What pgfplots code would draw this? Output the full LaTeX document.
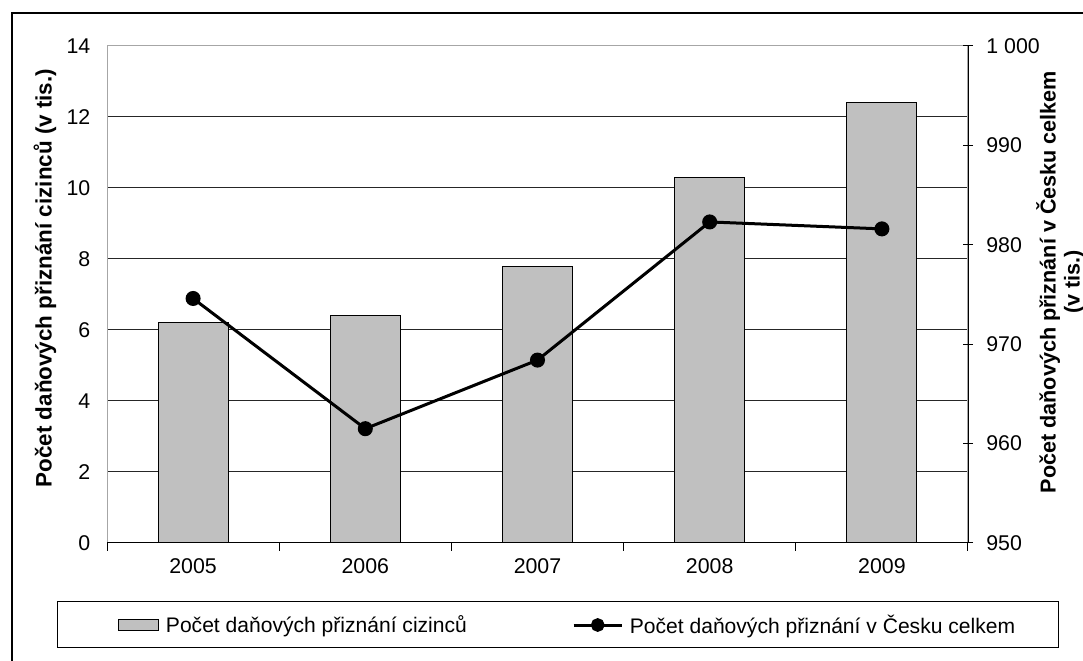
\documentclass[border=0pt]{standalone}
\usepackage{fontspec}
\setmainfont{Liberation Sans}
\setsansfont{Liberation Sans}
\usepackage{pgfplots}
\pgfplotsset{compat=1.18}
\definecolor{barg}{RGB}{192,192,192}
\pgfplotstableread{
x val
1 6.2
2 6.4
3 7.8
4 10.3
5 12.4
}\bars
\pgfplotstableread{
x val
1 974.6
2 961.5
3 968.4
4 982.3
5 981.6
}\total
\begin{document}
\begin{tikzpicture}[x=0.75pt,y=0.75pt]
\useasboundingbox (0,0) rectangle (1083,661);
\draw[line width=1.1pt] (12,-30) rectangle (1120,648);
\draw[line width=0.75pt] (57,59) rectangle (1058,13);
\begin{axis}[
  at={(80.25pt,88.5pt)}, anchor=south west, scale only axis,
  width=645.75pt, height=372.75pt,
  xmin=0.5, xmax=5.5, ymin=0, ymax=14,
  xtick={1,2,3,4,5}, xticklabels={2005,2006,2007,2008,2009},
  minor xtick={0.5,1.5,2.5,3.5,4.5,5.5},
  xtick pos=bottom, ytick pos=left,
  ytick={0,2,4,6,8,10,12,14}, yticklabels={0,2,4,6,8,10,12,14},
  ymajorgrids, major grid style={black!85, line width=0.75pt},
  axis line style={gray!70, line width=0.75pt},
  tick style={black, line width=0.75pt},
  major tick length=0pt, minor tick length=6pt, tick align=outside,
  ticklabel style={font=\fontsize{16}{19}\selectfont},
  yticklabel style={xshift=-9pt},
  xticklabel style={yshift=-8pt},
  ylabel={Počet daňových přiznání cizinců (v tis.)},
  ylabel style={font=\bfseries\fontsize{16.8}{20}\selectfont, at={(axis description cs:-0.072,0.533)}, anchor=center},
]
\addplot[ybar, bar width=52.5pt, fill=barg, draw=black, line width=0.75pt] table[x=x,y=val] {\bars};
\draw[black, line width=0.75pt] (rel axis cs:0,0) -- (rel axis cs:1,0);
\end{axis}
\begin{axis}[
  at={(80.25pt,88.5pt)}, anchor=south west, scale only axis,
  width=645.75pt, height=372.75pt,
  xmin=0.5, xmax=5.5, ymin=950, ymax=1000,
  axis x line=none, axis y line*=right,
  ytick={950,960,970,980,990,1000}, yticklabels={950,960,970,980,990,1 000},
  axis line style={black, line width=0.75pt},
  tick style={black, line width=0.75pt},
  major tick length=7.5pt, tick align=center,
  ticklabel style={font=\fontsize{16}{19}\selectfont},
  yticklabel style={xshift=6.5pt},
  ylabel={Počet daňových přiznání v Česku celkem\\(v tis.)},
  ylabel style={font=\bfseries\fontsize{16.2}{18}\selectfont, align=center, at={(axis description cs:1.107,0.525)}, anchor=center},
  legend columns=2,
  legend style={at={(axis description cs:0.0128,-0.165)}, anchor=west, draw=none, fill=none,
    inner xsep=0pt, inner ysep=0pt,
    font=\fontsize{15.8}{19}\selectfont,
    nodes={inner xsep=5pt},
    /tikz/every even column/.append style={column sep=74pt}},
]
\addlegendimage{legend image code/.code={\draw[fill=barg,draw=black,line width=0.75pt] (0pt,-4pt) rectangle (30pt,4pt);}}
\addlegendentry{Počet daňových přiznání cizinců}
\addplot[black, line width=2.25pt, mark=*, mark size=4.5pt, mark options={solid, fill=black},
  legend image code/.code={\draw[black, line width=2.25pt] (0pt,0pt) -- (36pt,0pt); \fill[black] (18pt,0pt) circle (4pt);}]
  table[x=x,y=val] {\total};
\addlegendentry{Počet daňových přiznání v Česku celkem}
\end{axis}
\end{tikzpicture}
\end{document}
